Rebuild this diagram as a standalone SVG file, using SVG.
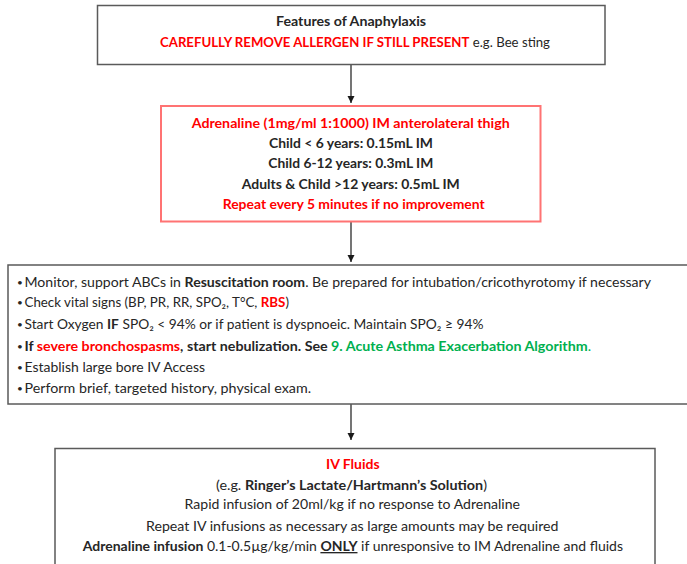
<svg xmlns="http://www.w3.org/2000/svg" width="687" height="564" viewBox="0 0 687 564">
  <defs>
    <marker id="head" markerUnits="userSpaceOnUse" markerWidth="8" markerHeight="8" refX="7" refY="3.5" orient="auto">
      <path d="M0,0 L7,3.5 L0,7 z" fill="#1a1a1a"/>
    </marker>
    <style>
      text { font-family: "Lato", "Liberation Sans", "DejaVu Sans", sans-serif; font-size: 13.4px; fill: #262626; }
      .b { font-weight: bold; }
      .red { fill: #ff0000; }
      .green { fill: #00b04f; }
      .dot { font-size: 10px; }
      .box { fill: #ffffff; stroke: #5a5a5a; stroke-width: 1.5; }
      .redbox { fill: #ffffff; stroke: #ff7373; stroke-width: 2; }
      .edge { fill: none; stroke: #1a1a1a; stroke-width: 1.2; marker-end: url(#head); }
    </style>
  </defs>

  <rect width="687" height="564" fill="#ffffff"/>

  <g id="connectors">
    <line class="edge" x1="351" y1="64.5" x2="351" y2="103"/>
    <line class="edge" x1="351" y1="222" x2="351" y2="262"/>
    <line class="edge" x1="351" y1="404" x2="351" y2="440"/>
  </g>

  <g id="features">
    <rect class="box" x="97.5" y="5.5" width="507.5" height="59"/>
    <text class="b" x="276" y="26" textLength="150" lengthAdjust="spacingAndGlyphs">Features of Anaphylaxis</text>
    <text x="160" y="47.3" textLength="390" lengthAdjust="spacingAndGlyphs"><tspan class="b red">CAREFULLY REMOVE ALLERGEN IF STILL PRESENT</tspan> e.g. Bee sting</text>
  </g>

  <g id="adrenaline">
    <rect class="redbox" x="161" y="106" width="379.5" height="115.5"/>
    <text class="b red" x="191.7" y="128" textLength="318" lengthAdjust="spacingAndGlyphs">Adrenaline (1mg/ml 1:1000) IM anterolateral thigh</text>
    <text class="b" x="269" y="147.5" textLength="164" lengthAdjust="spacingAndGlyphs">Child &lt; 6 years: 0.15mL IM</text>
    <text class="b" x="268.3" y="168" textLength="165" lengthAdjust="spacingAndGlyphs">Child 6-12 years: 0.3mL IM</text>
    <text class="b" x="241.7" y="188.5" textLength="218" lengthAdjust="spacingAndGlyphs">Adults &amp; Child &gt;12 years: 0.5mL IM</text>
    <text class="b red" x="222.7" y="209.3" textLength="262" lengthAdjust="spacingAndGlyphs">Repeat every 5 minutes if no improvement</text>
  </g>

  <g id="resuscitation">
    <rect class="box" x="8" y="265" width="680" height="139"/>
    <g class="bullets">
      <text class="dot" x="17" y="285.5">•</text>
      <text class="dot" x="17" y="305.5">•</text>
      <text class="dot" x="17" y="327.5">•</text>
      <text class="dot" x="17" y="349.5">•</text>
      <text class="dot" x="17" y="370.5">•</text>
      <text class="dot" x="17" y="391.5">•</text>
    </g>
    <text x="24.5" y="286.5" textLength="626.5" lengthAdjust="spacingAndGlyphs">Monitor, support ABCs in <tspan class="b">Resuscitation room</tspan>. Be prepared for intubation/cricothyrotomy if necessary</text>
    <text x="24.5" y="306.5" textLength="264.5" lengthAdjust="spacingAndGlyphs">Check vital signs (BP, PR, RR, SPO₂, T°C, <tspan class="b red">RBS</tspan>)</text>
    <text x="24.5" y="328.5" textLength="459" lengthAdjust="spacingAndGlyphs">Start Oxygen <tspan class="b">IF</tspan> SPO₂ &lt; 94% or if patient is dyspnoeic. Maintain SPO₂ ≥ 94%</text>
    <text x="24.5" y="350.5" textLength="566.5" lengthAdjust="spacingAndGlyphs"><tspan class="b">If </tspan><tspan class="b red">severe bronchospasms</tspan><tspan class="b">, start nebulization. See </tspan><tspan class="b green">9. Acute Asthma Exacerbation Algorithm</tspan><tspan class="green">.</tspan></text>
    <text x="24.5" y="371.5" textLength="180.5" lengthAdjust="spacingAndGlyphs">Establish large bore IV Access</text>
    <text x="24.5" y="392.5" textLength="286.5" lengthAdjust="spacingAndGlyphs">Perform brief, targeted history, physical exam.</text>
  </g>

  <g id="iv-fluids">
    <rect class="box" x="55" y="448.5" width="600" height="130"/>
    <text class="b red" x="326" y="469" textLength="53.6" lengthAdjust="spacingAndGlyphs">IV Fluids</text>
    <text x="216" y="490" textLength="271" lengthAdjust="spacingAndGlyphs">(e.g. <tspan class="b">Ringer’s Lactate/Hartmann’s Solution</tspan>)</text>
    <text x="184.6" y="508.5" textLength="335.4" lengthAdjust="spacingAndGlyphs">Rapid infusion of 20ml/kg if no response to Adrenaline</text>
    <text x="146" y="530.5" textLength="412.5" lengthAdjust="spacingAndGlyphs">Repeat IV infusions as necessary as large amounts may be required</text>
    <text x="82.7" y="551" textLength="540.3" lengthAdjust="spacingAndGlyphs"><tspan class="b">Adrenaline infusion</tspan> 0.1-0.5µg/kg/min <tspan class="b" text-decoration="underline">ONLY</tspan> if unresponsive to IM Adrenaline and fluids</text>
  </g>
</svg>
